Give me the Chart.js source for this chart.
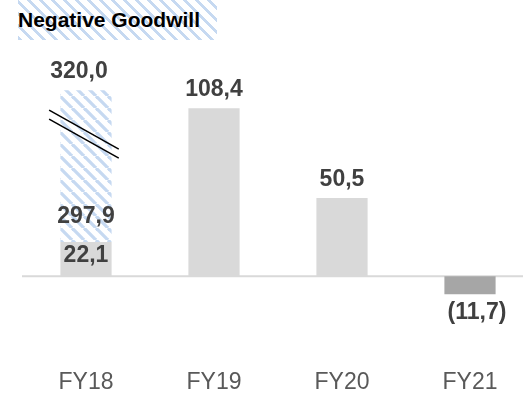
<!DOCTYPE html>
<html>
<head>
<meta charset="utf-8">
<script src="https://cdn.jsdelivr.net/npm/chart.js@4"></script>
<style>
  html, body { margin:0; padding:0; background:#fff; overflow:hidden; width:523px; height:394px; }
  #wrap { position:relative; width:523px; height:394px; overflow:hidden; }
  #chart { position:absolute; left:0; top:0; }
  #title {
    position:absolute; left:18px; top:0; width:199px; height:40px;
    font-family:"Liberation Sans", Arial, sans-serif; font-weight:bold; font-size:21px;
    line-height:40px; color:#000; white-space:nowrap; z-index:2;
    background:repeating-linear-gradient(45deg, #c6d9f1 0px, #c6d9f1 3px, #ffffff 3px, #ffffff 8.5px);
  }
</style>
</head>
<body>
<div id="wrap">
  <div id="title">Negative Goodwill</div>
  <canvas id="chart" width="534" height="400"></canvas>
</div>
<script>
// ---- data ----
const categories = ['FY18', 'FY19', 'FY20', 'FY21'];
const reportedValues = [22.1, 108.4, 50.5, -11.7];
const oneOffValues = [297.9, 0, 0, 0];      // hatched part (FY18)
const axisBreakValue = 120;                 // the broken FY18 bar is drawn up to this value

// ---- helpers ----
const FONT = '"Liberation Sans", Arial, sans-serif';
function fmt(v) {
  const s = Math.abs(v).toFixed(1).replace('.', ',');
  return v < 0 ? '(' + s + ')' : s;
}
const totalValues = reportedValues.map((v, i) => v + oneOffValues[i]);
const hatchedDisplay = reportedValues.map((v, i) =>
  oneOffValues[i] > 0 ? Math.min(totalValues[i], axisBreakValue) - v : 0);

function makeHatch() {
  const P = 12;
  const c = document.createElement('canvas');
  c.width = P; c.height = P;
  const g = c.getContext('2d');
  g.strokeStyle = '#c6d9f1';
  g.lineWidth = 3.3;
  for (const k of [-P, 0, P]) {
    g.beginPath();
    g.moveTo(k, 0);
    g.lineTo(k + P, P);
    g.stroke();
  }
  return g.createPattern(c, 'repeat');
}
const hatch = makeHatch();

const baselinePlugin = {
  id: 'baseline',
  beforeDatasetsDraw(chart) {
    const { ctx, chartArea } = chart;
    const y = chart.scales.y.getPixelForValue(0);
    ctx.save();
    ctx.strokeStyle = '#d9d9d9';
    ctx.lineWidth = 2;
    ctx.beginPath();
    ctx.moveTo(chartArea.left, y);
    ctx.lineTo(chartArea.right, y);
    ctx.stroke();
    ctx.restore();
  }
};

const breakPlugin = {
  id: 'breakMarks',
  afterDatasetsDraw(chart) {
    const { ctx } = chart;
    const bars = chart.getDatasetMeta(1).data;
    ctx.save();
    ctx.strokeStyle = '#000';
    ctx.lineWidth = 1.5;
    bars.forEach((h, i) => {
      if (!(oneOffValues[i] > 0 && totalValues[i] > axisBreakValue)) return;
      const top = Math.min(h.y, h.base);
      const w = h.width;
      for (const dy of [0, 9]) {
        ctx.beginPath();
        ctx.moveTo(h.x - 0.72 * w, top + 20 + dy);
        ctx.lineTo(h.x + 0.64 * w, top + 59 + dy);
        ctx.stroke();
      }
    });
    ctx.restore();
  }
};

const labelPlugin = {
  id: 'valueLabels',
  afterDatasetsDraw(chart, args, opts) {
    const { ctx } = chart;
    const base = chart.getDatasetMeta(0).data;
    const hb = chart.getDatasetMeta(1).data;
    ctx.save();
    ctx.font = 'bold 23px ' + FONT;
    ctx.fillStyle = '#404040';
    ctx.textAlign = 'center';
    ctx.textBaseline = 'alphabetic';
    categories.forEach((c, i) => {
      const b = base[i];
      const v = reportedValues[i];
      const top = Math.min(b.y, b.base), bottom = Math.max(b.y, b.base);
      const shift = (opts.shiftX && opts.shiftX[i]) || 0;
      if (oneOffValues[i] > 0) {
        const h = hb[i];
        ctx.fillText(fmt(totalValues[i]), h.x + shift, Math.min(h.y, h.base) - 12);
        ctx.fillText(fmt(oneOffValues[i]), b.x, top - 19);
        ctx.fillText(fmt(v), b.x, top + 20);
      } else if (v >= 0) {
        ctx.fillText(fmt(v), b.x + shift, top - 12);
      } else {
        ctx.fillText(fmt(v), b.x + shift, bottom + 25);
      }
    });
    ctx.restore();
  }
};

new Chart(document.getElementById('chart'), {
  type: 'bar',
  data: {
    labels: categories,
    datasets: [
      {
        label: 'Negative Goodwill',
        data: reportedValues,
        backgroundColor: reportedValues.map(v => v < 0 ? '#a6a6a6' : '#d9d9d9'),
        borderWidth: 0,
        barPercentage: 0.4,
        categoryPercentage: 1.0
      },
      {
        label: 'One-off',
        data: hatchedDisplay,
        backgroundColor: hatch,
        borderWidth: 0,
        barPercentage: 0.4,
        categoryPercentage: 1.0
      }
    ]
  },
  options: {
    responsive: false,
    animation: false,
    layout: { padding: { left: 22, right: 0, top: 0, bottom: 0 } },
    plugins: {
      legend: { display: false },
      title: { display: false },
      tooltip: { enabled: false },
      valueLabels: { shiftX: [-7, 0, 0, 7] }
    },
    scales: {
      x: {
        stacked: true,
        grid: { display: false, drawTicks: false },
        border: { display: false },
        ticks: { color: '#595959', font: { family: FONT, size: 23, lineHeight: 0.8 }, padding: 8 }
      },
      y: {
        stacked: true,
        display: false,
        min: -57.7,
        max: 178.2
      }
    }
  },
  plugins: [baselinePlugin, breakPlugin, labelPlugin]
});
</script>
</body>
</html>
